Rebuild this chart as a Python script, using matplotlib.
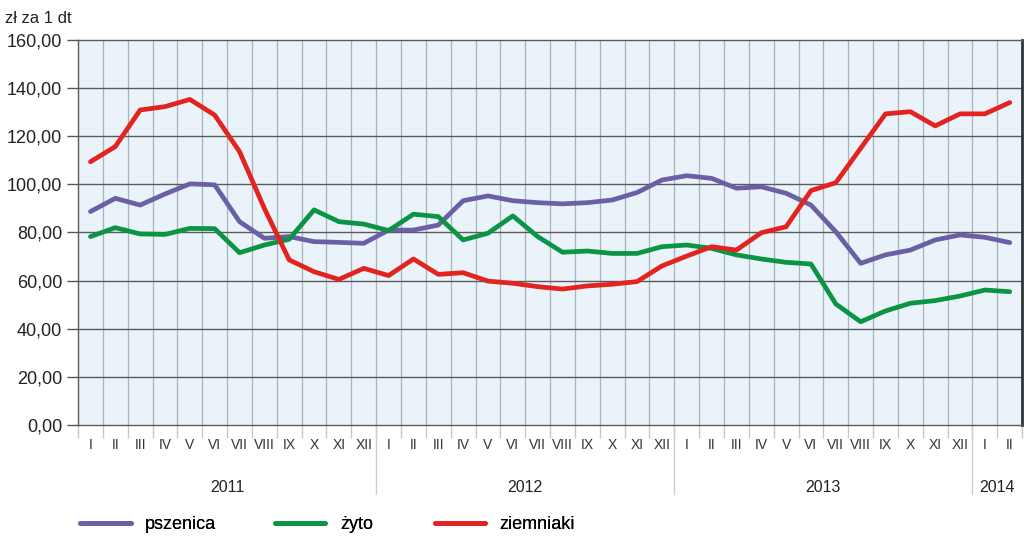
import matplotlib.pyplot as plt
import matplotlib.transforms as mtransforms
import numpy as np


# ========================================
# DATA
# ========================================
months = ["I", "II", "III", "IV", "V", "VI", "VII", "VIII", "IX", "X", "XI", "XII"]

years = ["2011", "2012", "2013", "2014"]
months_per_year = [12, 12, 12, 2]

pszenica = [
    88.7, 94.2, 91.4, 96.0, 100.2, 99.8, 84.5, 77.6, 78.3, 76.2, 75.9, 75.5,
    81.0, 81.0, 83.1, 93.2, 95.2, 93.2, 92.4, 91.9, 92.4, 93.5, 96.6, 101.8,
    103.6, 102.5, 98.4, 99.0, 96.3, 91.4, 80.3, 67.2, 70.7, 72.7, 76.9, 79.0,
    78.0, 75.8,
]

zyto = [
    78.3, 82.0, 79.4, 79.2, 81.7, 81.6, 71.6, 74.8, 77.2, 89.4, 84.5, 83.5,
    80.8, 87.6, 86.6, 76.9, 79.7, 86.9, 78.3, 71.8, 72.3, 71.3, 71.3, 74.1,
    74.8, 73.4, 70.7, 69.0, 67.6, 66.9, 50.3, 42.9, 47.4, 50.6, 51.7, 53.6,
    56.1, 55.4,
]

ziemniaki = [
    109.4, 115.7, 130.9, 132.3, 135.3, 128.8, 113.6, 90.0, 68.6, 63.7, 60.5, 65.1,
    62.1, 69.0, 62.6, 63.3, 59.8, 58.9, 57.5, 56.5, 57.8, 58.5, 59.6, 66.1,
    70.2, 74.1, 72.7, 79.9, 82.4, 97.4, 100.7, 115.0, 129.3, 130.2, 124.3, 129.3,
    129.3, 134.0,
]

series_names = ["pszenica", "żyto", "ziemniaki"]
series_colors = ["#6b5fa5", "#0b9443", "#e2231f"]

y_ticks = [0, 20, 40, 60, 80, 100, 120, 140, 160]


# ========================================
# FIGURE
# ========================================
plt.rcParams["font.family"] = ["Liberation Sans", "DejaVu Sans"]

fig = plt.figure(figsize=(10.24, 5.38), dpi=100)
ax = fig.add_axes([0.0762, 0.21, 0.922, 0.7157])

n = len(pszenica)
x = np.arange(n)

ax.set_facecolor("#eaf3f9")
ax.set_xlim(-0.5, n - 0.5)
ax.set_ylim(0, 160)

# grid
for b in np.arange(0.5, n - 0.5, 1):
    ax.axvline(b, color="#a9b3bc", lw=0.9, zorder=1)
for t in y_ticks[1:-1]:
    ax.axhline(t, color="#5a5a5a", lw=1.0, zorder=1)

# lines
handles = []
for vals, name, col in zip([pszenica, zyto, ziemniaki], series_names, series_colors):
    h, = ax.plot(x, vals, color=col, lw=3.4, label=name, zorder=3,
                 solid_joinstyle="round", solid_capstyle="round")
    handles.append(h)

# y axis
ax.set_yticks(y_ticks)
ax.set_yticklabels([f"{t:.2f}".replace(".", ",") for t in y_ticks],
                   fontsize=13, color="#222222")
ax.tick_params(axis="y", length=8, color="#555555", width=1)

# x axis: month labels, ticks at boundaries
month_labels = []
for cnt in months_per_year:
    month_labels += months[:cnt]
ax.set_xticks(x)
ax.set_xticklabels(month_labels, fontsize=10, color="#333333")
ax.tick_params(axis="x", which="major", length=0, pad=9)
ax.set_xticks(np.arange(-0.5, n, 1), minor=True)
ax.tick_params(axis="x", which="minor", length=9, color="#c8c8c8", width=1)

for side in ["left", "top", "bottom"]:
    ax.spines[side].set_color("#5a5a5a")
    ax.spines[side].set_linewidth(1.0)
ax.spines["right"].set_color("#333333")
ax.spines["right"].set_linewidth(2.0)

# years and separators
trans = mtransforms.blended_transform_factory(ax.transData, ax.transAxes)
start = 0
for yr, cnt in zip(years, months_per_year):
    mid = start + (cnt - 1) / 2
    ax.text(mid, -0.163, yr, transform=trans, ha="center", va="center",
            fontsize=11.5, color="#222222")
    if start > 0:
        ax.plot([start - 0.5, start - 0.5], [0, -0.18], transform=trans,
                color="#cfcfcf", lw=1, clip_on=False)
    start += cnt

# unit label
fig.text(0.005, 0.98, "zł za 1 dt", fontsize=12, color="#222222",
         ha="left", va="top")

# legend (one entry each, placed like the original)
legend_x = [0.066, 0.256, 0.412]
for h, lx in zip(handles, legend_x):
    leg = fig.legend(handles=[h], loc="center left", bbox_to_anchor=(lx, 0.025),
                     frameon=False, fontsize=13, handlelength=2.8,
                     handletextpad=0.8, borderpad=0.2)
    fig.add_artist(leg)

fig.savefig("out.png", dpi=100)
